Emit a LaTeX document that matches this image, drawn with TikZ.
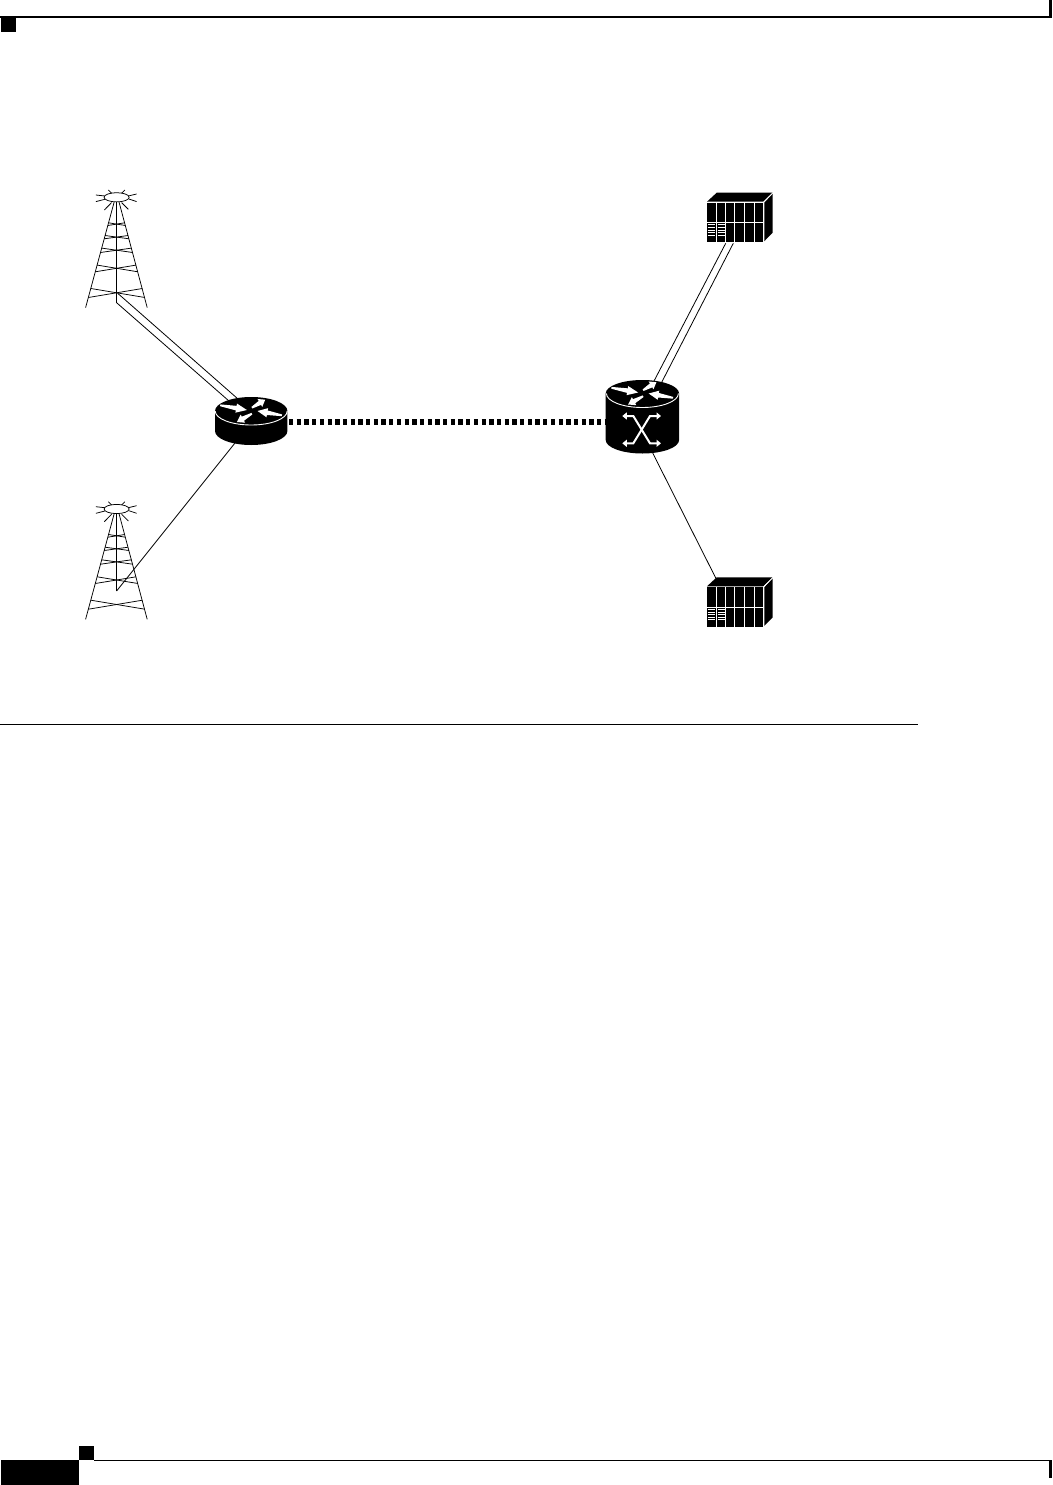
\documentclass[tikz,border=0pt]{standalone}
\usetikzlibrary{calc,arrows.meta}
\newcommand{\flowarrow}[4]{%
  \coordinate (fa) at (#1,#2); \coordinate (fb) at (#3,#4);
  \fill[white] ($(fa)!0.9pt!90:(fb)$) -- ($(fa)!0.6!(fb)!2.3pt!90:(fb)$) -- ($(fa)!0.6!(fb)!4.6pt!90:(fb)$) -- (fb)
    -- ($(fa)!0.6!(fb)!4.6pt!-90:(fb)$) -- ($(fa)!0.6!(fb)!2.3pt!-90:(fb)$) -- ($(fa)!0.9pt!-90:(fb)$) -- cycle;}
\tikzset{
  thinline/.style={line width=0.8pt,black},
  towerline/.style={line width=0.75pt,black},
  trunk/.style={line width=1.1pt,black},
  towerpic/.pic={
    \draw[towerline] (0,0) ellipse [x radius=12.5,y radius=4.6];
    \foreach \a/\b/\c/\d in {-20.7/-2.3/-11.7/-1.3,-20.7/4.3/-11.7/2,-12.3/12.7/-5/5.3,-8.3/-7.3/-5/-4,20/-3.3/11.7/-1.3,20/4.3/12.3/1.7,11.7/12/5/5.3,8.3/-7.3/5/-4}
      \draw[towerline] (\a,\b) -- (\c,\d);
    \draw[towerline] (-2.4,4.6) -- (-31,110.3);
    \draw[towerline] (2.4,4.6) -- (30.6,110.3);
    \foreach \u/\l in {25.5/28.2,38.2/41.5,50.8/55.2,67.8/74.5,91.2/100.2}{
      \pgfmathsetmacro{\xu}{2.4+(\u-4.6)*0.27}
      \pgfmathsetmacro{\xl}{2.4+(\l-4.6)*0.27}
      \draw[towerline] (-\xu,\u) -- (\xl,\l);
      \draw[towerline] (\xu,\u) -- (-\xl,\l);
    }
  },
  routertop/.pic={
    \draw[white,line width=0.9pt] (-36,0) arc[start angle=180,end angle=0,x radius=36,y radius=14];
    \flowarrow{-31}{-5.7}{-4.3}{-1}
    \flowarrow{0.7}{-3.3}{14}{-11.3}
    \flowarrow{30.7}{4.3}{6.3}{0}
    \flowarrow{0.7}{2.7}{-14.3}{11}
  },
  serverpic/.pic={
    \fill[black] (0,0) rectangle (56.6,39.3);
    \fill[black] (0.3,-1) -- (10,-10) -- (66,-10) -- (56.6,-1) -- cycle;
    \fill[black] (57.6,0) -- (66,-9) -- (66,30) -- (57.6,38.5) -- cycle;
    \draw[white,line width=0.7pt] (56.8,-0.5) -- (66.5,-10.2);
    \foreach \x in {9.3,18.8,28,37.6,47.3}
      \draw[white,line width=0.7pt] (\x,0) -- (\x,39.3);
    \draw[white,line width=0.7pt] (0,19.6) -- (56.6,19.6);
    \foreach \y in {22,24.6,27.2,29.8,32.4}{
      \draw[white,line width=0.8pt] (1,\y) -- (8,\y);
      \draw[white,line width=0.8pt] (10.8,\y) -- (17.8,\y);
    }
  }
}
\begin{document}
\begin{tikzpicture}[x=1pt,y=-1pt]
\useasboundingbox (0,0) rectangle (1052,1485);
% page furniture
\fill[black] (0,16.5) rectangle (1049,17.7);
\fill[black] (1,17) rectangle (16,32);
\fill[black] (1049,0) rectangle (1052,18);
\fill[black] (0,723.7) rectangle (918,724.7);
\fill[black] (1,1460) rectangle (79,1485);
\fill[black] (79,1446) rectangle (94,1460);
\fill[black] (94,1460) rectangle (1052,1461.2);
\fill[black] (1049,1460) rectangle (1052,1478);
% anchor points
\coordinate (t1a) at (116.6,302.7);
\coordinate (t1b) at (117.7,293.3);
\coordinate (t2a) at (116.6,591);
\coordinate (r1a) at (229,401);
\coordinate (r1b) at (238,399);
\coordinate (r1c) at (235,443);
\coordinate (r1e) at (289,421.5);
\coordinate (r2w) at (605.7,421.5);
\coordinate (r2a) at (653.5,382);
\coordinate (r2b) at (660.8,384);
\coordinate (r2c) at (652.7,453);
\coordinate (s1a) at (725.7,243.3);
\coordinate (s1b) at (733.3,243.3);
\coordinate (s2a) at (716,578.5);
% towers
\pic at (116.6,197.3) {towerpic};
\pic at (116.6,509) {towerpic};
\draw[trunk] (116.6,201.9) -- (t1a);
\draw[trunk] (116.6,513.6) -- (t2a);
% connectors
\draw[thinline] (t1a) -- (r1a);
\draw[thinline] (t1b) -- (r1b);
\draw[thinline] (t2a) -- (r1c);
\draw[line width=6pt,black,dash pattern=on 4.3pt off 3.4pt] (r1e) -- (r2w);
\draw[thinline] (r2a) -- (s1a);
\draw[thinline] (r2b) -- (s1b);
\draw[thinline] (r2c) -- (s2a);
% router 1
\fill[black] (215,411) -- (215,431) arc[start angle=180,end angle=0,x radius=36.2,y radius=14] -- (287.4,411) arc[start angle=0,end angle=-180,x radius=36.2,y radius=14] -- cycle;
\pic at (251.2,411) {routertop};
% router 2
\fill[black] (605.7,393.5) -- (605.7,440) arc[start angle=180,end angle=0,x radius=36.7,y radius=13.5] -- (679.1,393.5) arc[start angle=0,end angle=-180,x radius=36.7,y radius=13.5] -- cycle;
\pic at (642.4,393.5) {routertop};
\draw[white,line width=2pt,{Triangle[width=7pt,length=4.5pt]}-{Triangle[width=7pt,length=4.5pt]}] (622.3,416) -- (633.3,416) -- (650,443.3) -- (661,443.3);
\draw[white,line width=2pt,{Triangle[width=7pt,length=4.5pt]}-{Triangle[width=7pt,length=4.5pt]}] (661,416) -- (650,416) -- (633.3,443.3) -- (622.3,443.3);
% servers
\pic at (706.7,202.7) {serverpic};
\pic at (706.7,587.3) {serverpic};
\end{tikzpicture}
\end{document}
